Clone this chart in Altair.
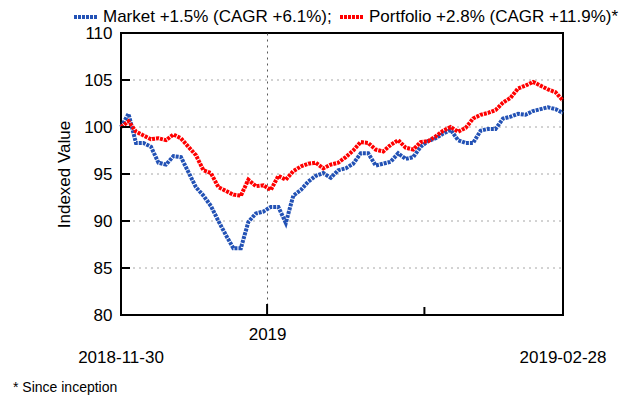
import altair as alt
import pandas as pd

# ---- data ----
index = list(range(60))  # trading days 2018-11-30 .. 2019-02-28
market = [100.0, 101.4, 98.3, 98.3, 97.9, 96.2, 96.0, 96.9, 96.8, 95.2,
          93.6, 92.7, 91.6, 90.0, 88.5, 87.1, 87.1, 89.9, 90.8, 91.0,
          91.5, 91.5, 89.8, 92.7, 93.3, 94.2, 94.8, 95.1, 94.6, 95.4,
          95.6, 96.1, 97.2, 97.2, 95.9, 96.1, 96.3, 97.2, 96.6, 96.8,
          97.9, 98.5, 98.8, 99.3, 99.7, 98.6, 98.3, 98.3, 99.6, 99.8,
          99.8, 100.9, 101.1, 101.4, 101.3, 101.7, 101.9, 102.1, 101.9, 101.5]
portfolio = [100.0, 100.6, 99.5, 99.1, 98.7, 98.8, 98.6, 99.2, 98.8, 97.9,
             97.0, 95.4, 95.1, 93.6, 93.2, 92.8, 92.7, 94.4, 93.7, 93.8,
             93.3, 94.8, 94.4, 95.3, 95.8, 96.1, 96.2, 95.6, 96.0, 96.2,
             96.8, 97.5, 98.4, 98.3, 97.6, 97.4, 98.1, 98.6, 97.8, 97.6,
             98.4, 98.5, 99.0, 99.6, 100.0, 99.5, 99.9, 100.9, 101.3, 101.5,
             101.8, 102.6, 103.1, 104.1, 104.4, 104.8, 104.4, 104.0, 103.7, 102.8]
series_names = ["Market +1.5% (CAGR +6.1%);", "Portfolio +2.8% (CAGR +11.9%)*"]
series_colors = ["#2352B5", "#FF0000"]
y_ticks = [80, 85, 90, 95, 100, 105, 110]
y_grid = [85, 90, 95, 100, 105]
month_pos = [19.5, 40.5]      # month boundaries (Jan, Feb)
month_labels = ["2019", ""]
edge_pos = [0, 59]
edge_labels = ["2018-11-30", "2019-02-28"]
footnote = "* Since inception"

df = pd.DataFrame({
    "i": index * 2,
    "v": market + portfolio,
    "s": [series_names[0]] * len(market) + [series_names[1]] * len(portfolio),
})

W, H = 442, 282
FONT = "Liberation Sans"
xs = alt.Scale(domain=[0, 59], nice=False, zero=False)
ys = alt.Scale(domain=[80, 110], nice=False, zero=False)

x_axis = alt.Axis(values=[month_pos[0]], labelExpr="'" + month_labels[0] + "'",
                  grid=True, gridColor="#595959", gridDash=[2, 4], gridWidth=1,
                  ticks=False, domain=False, labelFontSize=17, labelPadding=11,
                  labelColor="black", title="")
y_axis = alt.Axis(values=y_ticks, grid=False, ticks=False, domain=False,
                  labelFontSize=17, labelPadding=9, labelColor="black",
                  title="Indexed Value", titleFontSize=17, titleFontWeight="normal",
                  titleColor="black", titlePadding=10)

grid = alt.Chart(pd.DataFrame({"v": y_grid})).mark_rule(
    color="#A6A6A6", strokeDash=[2, 4], strokeWidth=1
).encode(
    y=alt.Y("v:Q", scale=ys, axis=y_axis),
    x=alt.value(0), x2=alt.value("width"),
)

yticks = alt.Chart(pd.DataFrame({"v": y_grid})).mark_rule(
    color="black", strokeWidth=2
).encode(
    y=alt.Y("v:Q", scale=ys, axis=y_axis),
    x=alt.value(0), x2=alt.value(9),
)

tick_major = alt.Chart(pd.DataFrame({"i": [month_pos[0]]})).mark_rule(
    color="black", strokeWidth=2
).encode(
    x=alt.X("i:Q", scale=xs, axis=x_axis),
    y=alt.value(H), y2=alt.value(H - 11),
)
tick_minor = alt.Chart(pd.DataFrame({"i": [month_pos[1]]})).mark_rule(
    color="black", strokeWidth=2
).encode(
    x=alt.X("i:Q", scale=xs, axis=x_axis),
    y=alt.value(H), y2=alt.value(H - 8),
)

lines = alt.Chart(df).mark_line(strokeWidth=4, strokeDash=[3, 1]).encode(
    x=alt.X("i:Q", scale=xs, axis=x_axis),
    y=alt.Y("v:Q", scale=ys, axis=y_axis),
    color=alt.Color("s:N",
                    scale=alt.Scale(domain=series_names, range=series_colors),
                    legend=alt.Legend(orient="none", legendX=-49, legendY=-30,
                                      direction="horizontal", title=None,
                                      symbolType="stroke", symbolSize=576,
                                      symbolStrokeWidth=4, symbolDash=[3, 1],
                                      labelFontSize=17, labelColor="black",
                                      labelOffset=3, columnPadding=0,
                                      labelLimit=400, padding=0)),
    detail="s:N",
)

edges = alt.Chart(pd.DataFrame({"i": edge_pos, "t": edge_labels})).mark_text(
    fontSize=17, baseline="middle", align="center", color="black", font=FONT
).encode(
    x=alt.X("i:Q", scale=xs, axis=x_axis),
    y=alt.value(325),
    text="t:N",
)

foot = alt.Chart(pd.DataFrame({"t": [footnote]})).mark_text(
    fontSize=14, baseline="middle", align="left", color="black", font=FONT
).encode(
    x=alt.value(-108), y=alt.value(355), text="t:N",
)

chart = alt.layer(grid, tick_major, tick_minor, lines, yticks, edges, foot).properties(
    width=W, height=H,
    autosize=alt.AutoSizeParams(type="none"),
    padding={"left": 113, "top": 25, "right": 69, "bottom": 80},
).configure(
    font=FONT,
    background="white",
).configure_view(
    stroke="black", strokeWidth=2,
).configure_axis(
    labelFont=FONT, titleFont=FONT,
).configure_legend(
    labelFont=FONT,
)

chart.save("out.html", embed_options={"renderer": "svg", "actions": False})
